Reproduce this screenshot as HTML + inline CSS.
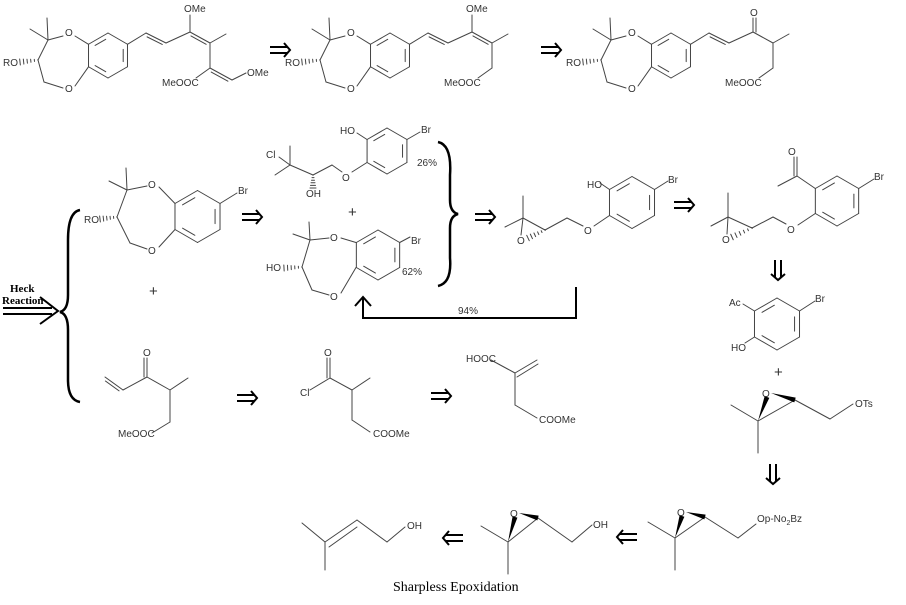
<!DOCTYPE html>
<html><head><meta charset="utf-8"><style>
html,body{margin:0;padding:0;background:#fff;}
svg{display:block;}
text{font-family:"Liberation Sans",sans-serif;font-size:10px;fill:#333;}
.s{font-family:"Liberation Serif",serif;}
</style></head><body>
<svg id="sv" width="906" height="605" viewBox="0 0 906 605" xmlns="http://www.w3.org/2000/svg">
<g id="lines" stroke="#444" stroke-width="1" fill="none" stroke-linecap="round"></g>
<g id="arr" stroke="#000" stroke-width="2" fill="none"></g>
<!-- braces and bracket -->
<path d="M438,142 Q452,145 450,175 L450,200 Q450,212 458,214 Q450,216 450,228 L450,258 Q452,283 438,286" stroke="#000" stroke-width="2.5" fill="none"/>
<path d="M80,210 Q68,212 68,240 L68,295 Q68,310 60,312 Q68,314 68,330 L68,380 Q68,400 80,402" stroke="#000" stroke-width="2.5" fill="none"/>
<path d="M576,287 L576,318 L363,318 L363,298 M355,306 L363,297 L371,306" stroke="#000" stroke-width="2" fill="none"/>
<path d="M3,308 L52,308 M3,314 L52,314 M40,297 L58,311 L40,324" stroke="#000" stroke-width="2" fill="none"/>

<!-- top row texts -->
<text x="3" y="66">RO</text><text x="65" y="36">O</text><text x="65" y="92">O</text>
<text x="184" y="12">OMe</text><text x="162" y="86">MeOOC</text><text x="247" y="76">OMe</text>
<text x="285" y="66">RO</text><text x="347" y="36">O</text><text x="347" y="92">O</text>
<text x="466" y="12">OMe</text><text x="444" y="86">MeOOC</text>
<text x="566" y="66">RO</text><text x="628" y="36">O</text><text x="628" y="92">O</text>
<text x="750" y="16">O</text><text x="725" y="86">MeOOC</text>

<!-- bottom-left core -->
<text x="84" y="223">RO</text><text x="148" y="188">O</text><text x="148" y="254">O</text><text x="238" y="194">Br</text>
<text x="149" y="296" style="font-size:15px">+</text>
<!-- chlorohydrin -->
<text x="340" y="134">HO</text><text x="421" y="133">Br</text><text x="417" y="166">26%</text>
<text x="342" y="181">O</text><text x="306" y="197">OH</text><text x="266" y="158">Cl</text>
<text x="348" y="217" style="font-size:15px">+</text>
<!-- HO core -->
<text x="266" y="271">HO</text><text x="330" y="241">O</text><text x="330" y="300">O</text><text x="411" y="244">Br</text><text x="402" y="275">62%</text>
<text x="458" y="314">94%</text>
<!-- epoxide phenol -->
<text x="587" y="188">HO</text><text x="668" y="183">Br</text><text x="584" y="234">O</text><text x="517" y="244">O</text>
<!-- acetyl -->
<text x="788" y="155">O</text><text x="874" y="180">Br</text><text x="787" y="233">O</text><text x="722" y="243">O</text>
<!-- acetophenol -->
<text x="729" y="306">Ac</text><text x="815" y="302">Br</text><text x="731" y="351">HO</text>
<text x="774" y="377" style="font-size:15px">+</text>
<text x="762" y="397">O</text><text x="855" y="407">OTs</text>
<!-- bottom -->
<text x="677" y="516">O</text><text x="757" y="522">Op-No<tspan dy="3" style="font-size:7px">2</tspan><tspan dy="-3">Bz</tspan></text>
<text x="510" y="517">O</text><text x="593" y="528">OH</text>
<text x="407" y="529">OH</text>
<text class="s" x="393" y="591" style="font-family:'Liberation Serif',serif;font-size:14px;fill:#000">Sharpless Epoxidation</text>
<!-- middle-left row -->
<text x="143" y="356">O</text><text x="118" y="437">MeOOC</text>
<text x="300" y="396">Cl</text><text x="324" y="356">O</text><text x="373" y="437">COOMe</text>
<text x="466" y="362">HOOC</text><text x="539" y="423">COOMe</text>
<!-- Heck -->
<text x="10" y="292" style="font-family:'Liberation Serif',serif;font-size:11px;font-weight:bold;fill:#000">Heck</text>
<text x="2" y="304" style="font-family:'Liberation Serif',serif;font-size:11px;font-weight:bold;fill:#000">Reaction</text>
</svg>
<script>
var NS="http://www.w3.org/2000/svg",G=document.getElementById("lines"),A=document.getElementById("arr"),S=document.getElementById("sv");
function L(a,b,c,d,g){var e=document.createElementNS(NS,"line");e.setAttribute("x1",a);e.setAttribute("y1",b);e.setAttribute("x2",c);e.setAttribute("y2",d);(g||G).appendChild(e);}
function D(a,b,c,d){L(a,b,c,d);var dx=c-a,dy=d-b,l=Math.hypot(dx,dy),nx=-dy/l*3,ny=dx/l*3;L(a+nx+dx*.12,b+ny+dy*.12,c+nx-dx*.12,d+ny-dy*.12);}
function ring(cx,cy,r){var v=[];for(var i=0;i<6;i++){var an=(-90+60*i)*Math.PI/180;v.push([cx+r*Math.cos(an),cy+r*Math.sin(an)]);}
for(i=0;i<6;i++){var p=v[i],q=v[(i+1)%6];L(p[0],p[1],q[0],q[1]);if(i%2==1){var k=.78,p2=[cx+(p[0]-cx)*k,cy+(p[1]-cy)*k],q2=[cx+(q[0]-cx)*k,cy+(q[1]-cy)*k];var m=.15;L(p2[0]+(q2[0]-p2[0])*m,p2[1]+(q2[1]-p2[1])*m,q2[0]-(q2[0]-p2[0])*m,q2[1]-(q2[1]-p2[1])*m);}}}
function hash(a,b,c,d){var dx=c-a,dy=d-b,l=Math.hypot(dx,dy),nx=-dy/l,ny=dx/l;for(var i=0;i<=5;i++){var t=i/5,w=0.5+t*2.5,x=a+dx*t,y=b+dy*t;L(x-nx*w,y-ny*w,x+nx*w,y+ny*w);}}
function wedge(a,b,c,d){var dx=c-a,dy=d-b,l=Math.hypot(dx,dy),nx=-dy/l*2.5,ny=dx/l*2.5;var p=document.createElementNS(NS,"polygon");p.setAttribute("points",a+","+b+" "+(c+nx)+","+(d+ny)+" "+(c-nx)+","+(d-ny));p.setAttribute("fill","#000");S.appendChild(p);}
function arrow(cx,cy,dir){var h=10;var pts;
 function tr(x,y){if(dir=="r")return[cx+x,cy+y];if(dir=="l")return[cx-x,cy+y];return[cx+y,cy+x];}
 var a=tr(-h,-3),b=tr(h-3,-3),c=tr(-h,3),d=tr(h-3,3),e=tr(h-6,-7),f=tr(h,0),g=tr(h-6,7);
 L(a[0],a[1],b[0],b[1],A);L(c[0],c[1],d[0],d[1],A);var p=document.createElementNS(NS,"polyline");p.setAttribute("points",e+" "+f+" "+g);A.appendChild(p);}
// top cores
[0,282,563].forEach(function(dx){ring(108+dx,55.5,22.5);
L(88.5+dx,44.3,75+dx,36);L(63+dx,36,48+dx,40);L(48+dx,40,47+dx,18);L(48+dx,40,30+dx,29);L(48+dx,40,38+dx,60);hash(38+dx,60,20+dx,62);
L(38+dx,60,44+dx,82);L(44+dx,82,63+dx,88);L(75+dx,86,88.5+dx,66.8);
L(127.5+dx,44.3,146+dx,33);D(146+dx,33,166+dx,43);L(166+dx,43,190+dx,32);L(210+dx,43,226+dx,34);L(210+dx,43,210+dx,68);L(210+dx,68,196+dx,78);});
L(190,32,190,15);D(190,32,210,43);D(210,68,232,80);L(232,80,246,73);
L(472,32,472,15);D(472,32,492,43);
L(753,32,753,18);L(756,32,756,18);L(753,32,773,43);
// bottom-left core
ring(197.5,216.5,26);L(175,203.5,159,187);L(147,186,127,190);L(127,190,126,168);L(127,190,109,181);L(127,190,117,217);hash(117,217,100,219);
L(117,217,130,243);L(130,243,147,249);L(159,247,175,229.5);L(220,203.5,237,193);
// HO core
ring(378,255,25);L(356,242.5,341,238);L(329,238,310,240);L(310,240,309,222);L(310,240,293,234);L(310,240,302,267);hash(302,267,284,268);
L(302,267,312,290);L(312,290,329,295);L(341,293,356,267.5);L(399.7,242.5,410,237);
// chlorohydrin
ring(387,151,23);L(367,139.5,357,133);L(407,139.5,420,132);L(367,162.5,352,172);L(342,172,332,165);L(332,165,313,175);hash(313,175,313,188);
L(313,175,290,165);L(290,165,290,146);L(290,165,275,175);L(290,165,279,157);
// epoxide phenol
ring(632,202.5,26);L(609.5,189.5,600,183);L(654.5,189.5,668,181);L(609.5,215.5,594,226);L(583,226,567,218);L(567,218,545,230);L(545,230,523,218);
L(523,218,523,196);L(523,218,505,227);L(523,218,521,235);hash(545,230,528,238);
// acetyl
ring(837,201,25);L(815.3,188.5,797,176);L(797,176,797,157);L(794,176,794,157);L(797,176,778,186);L(858.7,188.5,874,179);
L(815.3,213.5,798,225);L(786,224,773,217);L(773,217,752,228);L(752,228,728,217);L(728,217,728,193);L(728,217,711,226);L(728,217,727,234);hash(752,228,732,237);
// acetophenol
ring(777,324,26);L(754.5,311,743,304);L(799.5,311,815,301);L(754.5,337,745,343);
// epoxides
function epo(ox,oy,qx,qy,cx,cy){wedge(qx,qy,ox,oy+4);wedge(ox+4,oy,cx,cy);L(qx,qy,cx,cy);L(qx,qy,qx-27,qy-16);L(qx,qy,qx,qy+32);}
epo(767,393,758,421,795,400);L(795,400,830,419);L(830,419,853,404);
epo(682,512,675,538,705,517);L(705,517,738,538);L(738,538,756,524);
epo(515,513,508,542,538,518);L(538,518,572,542);L(572,542,592,525);
// prenol
L(302,523,325,542);L(325,542,325,570);L(325,542,357,520);L(329,547,357,527);L(357,520,387,542);L(387,542,405,527);
// vinyl ketone
D(105,377,123,390);L(123,390,147,377);L(147,377,147,358);L(144,377,144,358);L(147,377,170,390);L(170,390,188,378);L(170,390,170,422);L(170,422,152,433);
// acid chloride
L(310,390,330,378);L(330,378,330,358);L(327,378,327,358);L(330,378,352,390);L(352,390,370,378);L(352,390,352,420);L(352,420,370,432);
// HOOC
L(491,360,515,373);L(515,373,537,360);L(517,377,538,364);L(515,373,515,405);L(515,405,537,418);
// arrows
arrow(280,50,"r");arrow(551,50,"r");arrow(252,217,"r");arrow(485,217,"r");arrow(684,205,"r");
arrow(247,398,"r");arrow(441,396,"r");arrow(778,270,"d");arrow(773,474,"d");arrow(627,537,"l");arrow(453,538,"l");
</script>
</body></html>
